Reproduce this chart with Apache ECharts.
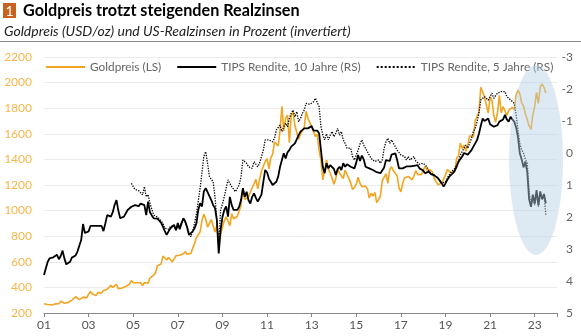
<!DOCTYPE html>
<html><head><meta charset="utf-8">
<script src="https://cdn.jsdelivr.net/npm/echarts@6/dist/echarts.min.js"></script>
<style>html,body{margin:0;padding:0;background:#fff}#c{width:581px;height:336px}</style>
</head><body><div id="c"></div>
<script>
// Month-end values, first value = Dec 2000 (plotted at start of 2001)
const goldFirstMonth = 0;
const gold = [272,
266,267,258,263,268,271,266,273,293,279,276,277,
282,297,301,308,327,318,305,313,324,317,318,347,
368,348,335,337,361,346,355,376,388,386,398,416,
400,396,424,389,393,396,391,407,416,426,453,436,
422,436,428,436,415,437,429,433,473,471,496,513,
569,556,582,644,653,614,633,624,599,604,647,632,
651,664,662,679,659,651,666,672,743,790,784,834,
923,972,934,871,886,930,918,833,885,731,815,870,
920,952,917,883,976,935,939,956,996,1040,1176,1088,
1079,1110,1116,1179,1208,1244,1169,1246,1307,1347,1384,1406,
1327,1411,1439,1536,1537,1506,1629,1814,1620,1722,1746,1531,
1744,1770,1663,1651,1558,1599,1622,1649,1776,1719,1726,1658,
1665,1578,1598,1469,1395,1240,1315,1395,1327,1324,1253,1205,
1251,1327,1292,1289,1251,1315,1286,1286,1217,1164,1183,1206,
1260,1214,1187,1180,1191,1171,1098,1135,1114,1142,1062,1062,
1112,1235,1237,1286,1212,1321,1342,1311,1323,1272,1178,1146,
1213,1256,1245,1267,1266,1242,1268,1312,1283,1270,1280,1291,
1345,1318,1324,1316,1299,1251,1224,1202,1187,1215,1222,1279,
1320,1319,1295,1283,1306,1409,1428,1528,1485,1511,1463,1515,
1584,1587,1577,1703,1716,1768,1963,1970,1887,1880,1762,1888,
1863,1743,1691,1768,1900,1763,1813,1815,1743,1783,1785,1806,
1788,1901,1941,1911,1842,1817,1753,1711,1661,1634,1750,1812,
1924,1837,1969,1990,1963,1919];

const tips10FirstMonth = 0;
const tips10 = [3.81,3.6,3.4,3.29,3.27,3.26,3.2,3.18,3.32,3.22,3.05,3.3,
3.48,3.5,3.4,3.27,3.29,3.2,3.08,3.03,2.72,2.22,2.5,2.56,
2.45,2.28,2.28,2.28,2.28,2.28,2.28,2.28,2.44,2.2,1.94,2.0,
1.99,1.85,1.62,1.47,1.8,2.04,1.99,1.99,1.95,1.78,1.8,1.68,
1.7,1.63,1.67,1.66,1.58,1.55,1.63,1.94,1.52,1.85,1.95,2.04,
2.0,2.05,2.11,2.18,2.3,2.44,2.56,2.45,2.35,2.38,2.25,2.41,
2.19,2.38,2.2,2.04,2.14,2.32,2.56,2.59,2.45,2.35,2.2,1.78,
1.57,1.67,1.2,1.1,1.22,1.35,1.47,1.63,1.72,2.1,3.14,2.41,
2.0,1.78,1.67,1.99,1.37,1.63,1.78,1.84,1.78,1.68,1.47,1.1,
1.37,1.21,1.47,1.58,1.37,1.26,1.4,1.52,1.58,1.3,0.9,0.53,
0.6,0.8,0.9,1.0,1.05,0.9,0.74,0.43,0.22,0.01,0.17,-0.02,
-0.09,-0.2,-0.15,-0.3,-0.25,-0.56,-0.67,-0.7,-0.77,-0.83,-0.77,-0.8,
-0.84,-0.7,-0.67,-0.7,-0.62,-0.09,0.43,0.63,0.32,0.48,0.38,0.32,
0.5,0.69,0.5,0.43,0.53,0.32,0.43,0.35,0.3,0.43,0.4,0.48,
0.3,0.06,0.25,0.08,0.2,0.43,0.38,0.48,0.5,0.53,0.48,0.6,
0.6,0.63,0.69,0.45,0.22,0.2,0.25,0.05,0.1,0.01,0.22,0.48,
0.43,0.48,0.45,0.42,0.38,0.42,0.48,0.4,0.43,0.38,0.48,0.43,
0.55,0.63,0.69,0.58,0.65,0.69,0.7,0.72,0.79,0.84,0.95,1.05,
0.95,0.84,0.74,0.69,0.63,0.55,0.43,0.27,0.22,0.11,0.0,0.06,
0.05,0.11,-0.09,-0.2,-0.3,-0.41,-0.6,-0.85,-1.08,-1.0,-0.95,-1.08,
-0.9,-0.93,-0.82,-0.77,-0.87,-0.98,-0.93,-1.05,-1.19,-1.05,-0.98,-1.13,
-1.05,-0.98,-0.8,-0.5,0.01,0.2,0.45,0.27,0.6,1.45,1.68,1.3,
1.58,1.16,1.63,1.2,1.45,1.28,1.57];

const tips5FirstMonth = 47; // Nov 2004
const tips5 = [0.95,
1.05,1.14,1.16,1.18,1.2,1.31,1.05,1.37,1.3,1.57,1.75,1.94,
2.0,2.0,2.05,2.12,2.2,2.35,2.4,2.38,2.3,2.3,2.25,2.41,
2.3,2.35,2.2,2.04,2.1,2.3,2.5,2.62,2.45,2.2,1.9,1.5,
1.1,0.6,0.1,-0.04,0.32,0.74,0.74,0.9,1.37,2.09,2.9,1.78,
1.6,1.37,1.1,0.84,0.95,1.05,1.1,1.21,1.1,1.0,0.74,0.22,
0.17,0.32,0.43,0.38,0.48,0.27,0.35,0.43,0.32,0.11,-0.09,-0.41,
-0.46,-0.41,-0.38,-0.35,-0.46,-0.72,-0.8,-0.87,-0.67,-0.82,-0.93,-0.82,
-1.08,-1.24,-1.34,-1.13,-1.29,-0.98,-1.08,-1.24,-1.34,-1.55,-1.5,-1.52,
-1.55,-1.6,-1.71,-1.76,-1.45,-0.82,-0.56,-0.41,-0.6,-0.41,-0.56,-0.67,
-0.51,-0.62,-0.77,-0.56,-0.67,-0.41,-0.3,-0.15,-0.2,-0.15,0.11,0.22,
0.2,-0.09,-0.28,-0.41,-0.25,-0.2,-0.04,0.01,0.17,0.22,0.27,0.32,
0.22,0.32,0.22,-0.15,-0.35,-0.46,-0.3,-0.41,-0.3,-0.2,-0.09,-0.15,
0.06,0.01,0.11,0.22,0.11,0.22,0.27,0.11,0.25,0.27,0.35,0.3,
0.32,0.38,0.43,0.55,0.63,0.66,0.69,0.72,0.78,0.84,0.95,1.0,
0.9,0.78,0.69,0.6,0.55,0.48,0.38,0.27,0.06,0.01,-0.15,-0.25,
-0.15,-0.3,-0.46,-0.67,-0.77,-0.98,-1.24,-1.66,-1.61,-1.76,-1.71,-1.65,
-1.61,-1.87,-1.71,-1.8,-1.87,-1.82,-1.92,-1.97,-1.92,-1.76,-1.82,-1.66,
-1.63,-1.55,-1.2,-0.72,-0.3,-0.1,0.01,0.2,0.32,1.2,1.68,1.37,
1.63,1.26,1.68,1.26,1.45,1.3,1.94];

const seriesNames = ['Goldpreis (LS)', 'TIPS Rendite, 10 Jahre (RS)', 'TIPS Rendite, 5 Jahre (RS)'];
const xTickLabels = ['01','03','05','07','09','11','13','15','17','19','21','23'];
const leftTicks = [200, 2200, 200];   // min, max, step
const rightTicks = [-3, 5, 1];        // min, max, step (inverted)
const titleText = 'Goldpreis trotzt steigenden Realzinsen';
const subtitleText = 'Goldpreis (USD/oz) und US-Realzinsen in Prozent (invertiert)';
// highlighted region: centre (years since 2001, right-axis value) and half extents
const highlight = {x: 22.06, y: 0.22, halfX: 1.21, halfY: 2.97};

const FONT = 'Lato, "Open Sans", sans-serif';
const toPairs = (arr, first) => arr.map((v, i) => [(first + i) / 12, v]);

const chart = echarts.init(document.getElementById('c'), null, {renderer: 'canvas'});
const option = {
  animation: false,
  textStyle: {fontFamily: FONT},
  grid: {left: 44, right: 24, top: 57, bottom: 23},
  legend: {
    left: 45, top: 61, padding: 0, itemWidth: 39, itemHeight: 14, itemGap: 15,
    itemStyle: {color: 'rgba(0,0,0,0)', borderColor: 'rgba(0,0,0,0)', borderWidth: 0},
    textStyle: {color: '#666', fontSize: 11.8, fontFamily: FONT},
    data: seriesNames
  },
  xAxis: {
    type: 'value', min: 0, max: 23, interval: 2,
    axisLine: {onZero: false, lineStyle: {color: '#888', width: 1}},
    axisTick: {length: 4, lineStyle: {color: '#888'}},
    axisLabel: {color: '#555', fontSize: 12, margin: 6, formatter: v => xTickLabels[Math.round(v / 2)] || ''},
    splitLine: {show: false}
  },
  yAxis: [{
    type: 'value', min: leftTicks[0], max: leftTicks[1], interval: leftTicks[2],
    axisLine: {show: false}, axisTick: {show: false},
    axisLabel: {color: '#F5B74A', fontSize: 12, margin: 12, formatter: v => String(v)},
    splitLine: {lineStyle: {color: '#ebebeb', width: 1}}
  }, {
    type: 'value', min: rightTicks[0], max: rightTicks[1], interval: rightTicks[2], inverse: true, position: 'right',
    axisLine: {show: false}, axisTick: {show: false},
    axisLabel: {color: '#666', fontSize: 12, margin: 16, align: 'right', formatter: v => String(v)},
    splitLine: {show: false}
  }],
  series: [{
    name: seriesNames[0], type: 'line', yAxisIndex: 0, showSymbol: false, symbol: 'none',
    data: toPairs(gold, goldFirstMonth), lineStyle: {color: '#F2A51E', width: 1.6}, itemStyle: {color: '#F2A51E'}, z: 2
  }, {
    name: seriesNames[1], type: 'line', yAxisIndex: 1, showSymbol: false, symbol: 'none',
    data: toPairs(tips10, tips10FirstMonth), lineStyle: {color: '#000', width: 1.8}, itemStyle: {color: '#000'}, z: 3
  }, {
    name: seriesNames[2], type: 'line', yAxisIndex: 1, showSymbol: false, symbol: 'none',
    data: toPairs(tips5, tips5FirstMonth), lineStyle: {color: '#000', width: 1.3, type: 'dotted'}, itemStyle: {color: '#000'}, z: 3
  }],
  graphic: [
    {type: 'rect', shape: {x: 3, y: 3, width: 13, height: 15}, style: {fill: '#C8621E'}},
    {type: 'text', style: {text: '1', x: 9.5, y: 11, fill: '#fff', fontSize: 14, fontFamily: FONT, align: 'center', verticalAlign: 'middle'}},
    {type: 'text', style: {text: titleText, x: 23, y: 11, fill: '#000', fontSize: 16.2, fontWeight: 'bold', fontFamily: FONT, verticalAlign: 'middle'}},
    {type: 'text', style: {text: subtitleText, x: 4, y: 31, fill: '#222', fontSize: 14, fontStyle: 'italic', fontFamily: FONT, verticalAlign: 'middle'}},
    {type: 'line', shape: {x1: 0, y1: 41.5, x2: 581, y2: 41.5}, style: {stroke: '#888', lineWidth: 1}}
  ]
};
chart.setOption(option);

const c = chart.convertToPixel({xAxisIndex: 0, yAxisIndex: 1}, [highlight.x, highlight.y]);
const e = chart.convertToPixel({xAxisIndex: 0, yAxisIndex: 1}, [highlight.x + highlight.halfX, highlight.y + highlight.halfY]);
chart.setOption({graphic: option.graphic.concat([{
  type: 'ellipse', z: 100,
  shape: {cx: c[0], cy: c[1], rx: Math.abs(e[0] - c[0]), ry: Math.abs(e[1] - c[1])},
  style: {fill: 'rgba(182,208,228,0.45)'}
}])});
</script></body></html>
